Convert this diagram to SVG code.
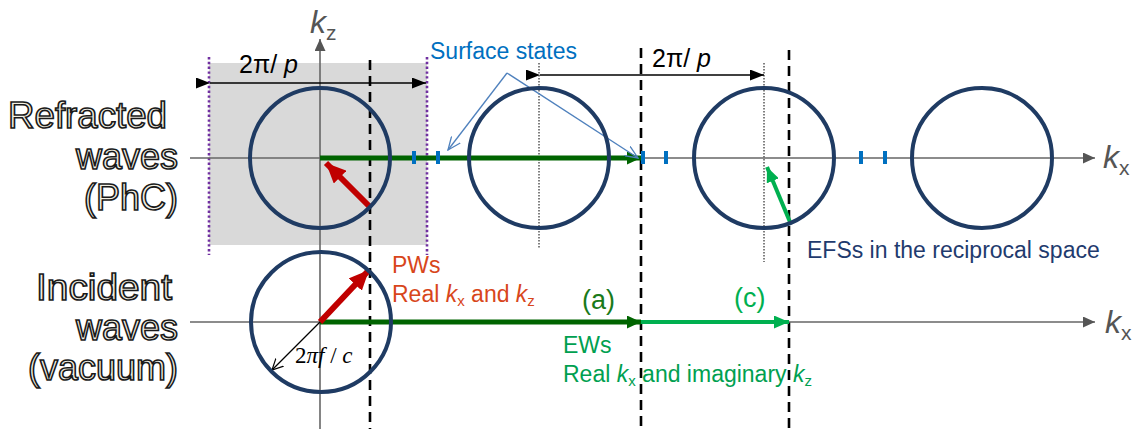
<svg xmlns="http://www.w3.org/2000/svg" width="1138" height="429" viewBox="0 0 1138 429">
<style>
.ring{fill:none;stroke:#1F3B63;stroke-width:4}
.axis{stroke:#666;stroke-width:1.6;fill:none}
.dash{stroke:#000;stroke-width:2.6;stroke-dasharray:10 6;fill:none}
.dot{stroke:#000;stroke-width:1;stroke-dasharray:1.5 1.5;fill:none}
.purple{stroke:#7030A0;stroke-width:2.6;stroke-dasharray:2.4 2.4;fill:none}
.tick{fill:#0070C0}
.outl{font-family:"Liberation Sans",Arial,sans-serif;font-size:36px;fill:#F3F0E4;stroke:#1a1a1a;stroke-width:1.6}
.lbl{font-family:"Liberation Sans",Arial,sans-serif;font-size:23px}
.big{font-size:27px}
.sub{font-size:15px;font-style:normal}
.ax{font-family:"Liberation Sans",Arial,sans-serif;font-size:32px;fill:#555;font-style:italic}
.axsub{font-size:21px;font-style:normal}
.per{font-family:"Liberation Sans",Arial,sans-serif;font-size:25px;fill:#000}
</style>
<defs>
<marker id="ahAxis" markerUnits="userSpaceOnUse" markerWidth="12" markerHeight="11" refX="12" refY="5.5" orient="auto"><path d="M0,0 L12,5.5 L0,11 z" fill="#555"/></marker>
<marker id="ahDG" markerUnits="userSpaceOnUse" markerWidth="14" markerHeight="13" refX="14" refY="6.5" orient="auto"><path d="M0,0 L14,6.5 L0,13 z" fill="#006400"/></marker>
<marker id="ahLG" markerUnits="userSpaceOnUse" markerWidth="15" markerHeight="13" refX="15" refY="6.5" orient="auto"><path d="M0,0 L15,6.5 L0,13 z" fill="#00B050"/></marker>
<marker id="ahR" markerUnits="userSpaceOnUse" markerWidth="20" markerHeight="18" refX="20" refY="9" orient="auto"><path d="M0,0 L20,9 L0,18 z" fill="#C00000"/></marker>
<marker id="ahK" markerUnits="userSpaceOnUse" markerWidth="14" markerHeight="11" refX="14" refY="5.5" orient="auto"><path d="M0,0 L14,5.5 L0,11 z" fill="#000"/></marker>
<marker id="ahKo" markerUnits="userSpaceOnUse" markerWidth="12" markerHeight="12" refX="11" refY="6" orient="auto"><path d="M0,0.5 L11,6 L0,11.5" fill="none" stroke="#000" stroke-width="1.2"/></marker>
<marker id="ahB" markerUnits="userSpaceOnUse" markerWidth="14" markerHeight="12" refX="13" refY="6" orient="auto"><path d="M0,0.5 L13,6 L0,11.5" fill="none" stroke="#4F81BD" stroke-width="1.3"/></marker>
</defs>

<g id="unit-cell">
<rect x="209" y="63" width="218" height="182" fill="#D9D9D9"/>
<line class="purple" x1="209" y1="57" x2="209" y2="255"/>
<line class="purple" x1="427" y1="57" x2="427" y2="255"/>
</g>

<g id="guides">
<line class="dash" x1="370" y1="60" x2="370" y2="429"/>
<line class="dash" x1="641" y1="48" x2="641" y2="429"/>
<line class="dash" x1="789" y1="50" x2="789" y2="429"/>
<line class="dot" x1="539" y1="63" x2="539" y2="248"/>
<line class="dot" x1="764" y1="63" x2="764" y2="262"/>
</g>

<g id="connectors">
<line class="axis" x1="190" y1="158" x2="1095" y2="158" marker-end="url(#ahAxis)"/>
<line class="axis" x1="190" y1="322" x2="1095" y2="322" marker-end="url(#ahAxis)"/>
<line class="axis" x1="320" y1="429" x2="320" y2="39" marker-end="url(#ahAxis)"/>
<line x1="210" y1="83" x2="426" y2="83" stroke="#000" stroke-width="1.5" marker-start="url(#ahK)" marker-end="url(#ahK)"/>
<line x1="540" y1="75" x2="764" y2="75" stroke="#000" stroke-width="1.5" marker-start="url(#ahK)" marker-end="url(#ahK)"/>
<line x1="320" y1="158" x2="641" y2="158" stroke="#006400" stroke-width="5" marker-end="url(#ahDG)"/>
<line x1="320" y1="322" x2="641" y2="322" stroke="#006400" stroke-width="5" marker-end="url(#ahDG)"/>
<line x1="641" y1="322" x2="789" y2="322" stroke="#00B050" stroke-width="4" marker-end="url(#ahLG)"/>
<line x1="370" y1="207" x2="326" y2="163" stroke="#C00000" stroke-width="6" marker-end="url(#ahR)"/>
<line x1="320" y1="322" x2="369" y2="270" stroke="#C00000" stroke-width="6" marker-end="url(#ahR)"/>
<line x1="320" y1="322" x2="272" y2="370" stroke="#000" stroke-width="1.2" marker-end="url(#ahKo)"/>
<line x1="790" y1="222" x2="767" y2="167" stroke="#00B050" stroke-width="4" marker-end="url(#ahLG)"/>
<line x1="507" y1="73" x2="448" y2="150" stroke="#4F81BD" stroke-width="1.3" marker-end="url(#ahB)"/>
<line x1="507" y1="73" x2="638" y2="158" stroke="#4F81BD" stroke-width="1.3" marker-end="url(#ahB)"/>
</g>

<g id="efs-circles">
<circle class="ring" cx="320" cy="158" r="70"/>
<circle class="ring" cx="539" cy="158" r="70"/>
<circle class="ring" cx="764" cy="158" r="70"/>
<circle class="ring" cx="982" cy="158" r="70"/>
<circle class="ring" cx="321" cy="322" r="70"/>
</g>

<g id="surface-ticks">
<rect class="tick" x="412" y="151" width="4" height="13"/>
<rect class="tick" x="436" y="151" width="4" height="13"/>
<rect class="tick" x="641" y="151" width="4" height="13"/>
<rect class="tick" x="664" y="151" width="4" height="13"/>
<rect class="tick" x="859" y="151" width="4" height="13"/>
<rect class="tick" x="883" y="151" width="4" height="13"/>
</g>

<g id="row-labels">
<text class="outl" x="8" y="128" textLength="159" lengthAdjust="spacingAndGlyphs">Refracted</text>
<text class="outl" x="178" y="169" text-anchor="end">waves</text>
<text class="outl" x="178" y="210" text-anchor="end">(PhC)</text>
<text class="outl" x="36" y="300" textLength="136" lengthAdjust="spacingAndGlyphs">Incident</text>
<text class="outl" x="178" y="340" text-anchor="end">waves</text>
<text class="outl" x="178" y="380" text-anchor="end">(vacuum)</text>
</g>

<g id="axis-labels">
<text class="ax" x="310" y="33">k<tspan class="axsub" dy="7">z</tspan></text>
<text class="ax" x="1103" y="168">k<tspan class="axsub" dy="7">x</tspan></text>
<text class="ax" x="1105" y="333">k<tspan class="axsub" dy="7">x</tspan></text>
</g>

<g id="period-labels">
<text class="per" x="239" y="73">2π/ <tspan font-style="italic">p</tspan></text>
<text class="per" x="652" y="67">2π/ <tspan font-style="italic">p</tspan></text>
</g>

<g id="surface-label">
<text class="lbl" x="430" y="59" fill="#0070C0">Surface states</text>
</g>

<g id="pw-label">
<text class="lbl" x="392" y="273" fill="#D8461B">PWs</text>
<text class="lbl" x="392" y="302" fill="#D8461B">Real <tspan font-style="italic">k</tspan><tspan class="sub" dy="4">x</tspan><tspan dy="-4"> and </tspan><tspan font-style="italic">k</tspan><tspan class="sub" dy="4">z</tspan></text>
</g>

<g id="ew-label">
<text class="lbl big" x="582" y="309" fill="#1A7A1A">(a)</text>
<text class="lbl big" x="734" y="307" fill="#00B050">(c)</text>
<text class="lbl" x="563" y="353" fill="#00A050">EWs</text>
<text class="lbl" x="563" y="382" fill="#00A050">Real <tspan font-style="italic">k</tspan><tspan class="sub" dy="4">x</tspan><tspan dy="-4"> and imaginary </tspan><tspan font-style="italic">k</tspan><tspan class="sub" dy="4">z</tspan></text>
</g>

<g id="radius-label">
<text x="295" y="363" font-family="'Liberation Serif','Times New Roman',serif" font-size="23" fill="#000">2<tspan font-style="italic">πf</tspan> / <tspan font-style="italic">c</tspan></text>
</g>

<g id="efs-label">
<text class="lbl" x="807" y="258" fill="#1F3B6E">EFSs in the reciprocal space</text>
</g>
</svg>
